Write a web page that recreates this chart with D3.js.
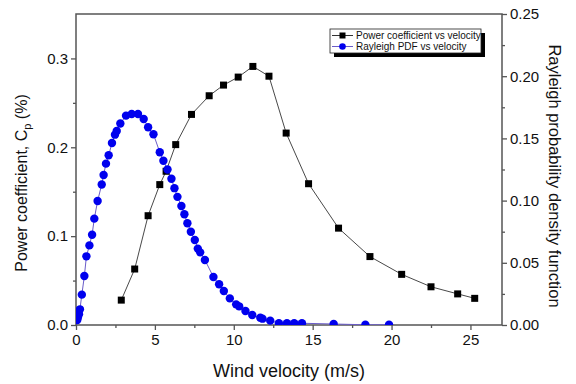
<!DOCTYPE html>
<html>
<head>
<meta charset="utf-8">
<script src="https://cdn.jsdelivr.net/npm/d3@7"></script>
<style>
body { margin: 0; background: #fff; }
svg text { font-family: Arial, "Liberation Sans", sans-serif; }
</style>
</head>
<body>
<div></div>
<script>
const width = 576, height = 384
const svg = d3.select("div").append("svg")
    .attr("xmlns", "http://www.w3.org/2000/svg")
    .attr("width", width)
    .attr("height", height)

// data
const cpVelocity = [2.87, 3.72, 4.57, 5.31, 5.71, 6.32, 7.32, 8.44, 9.35, 10.28, 11.21, 12.23, 13.32, 14.74, 16.64, 18.63, 20.64, 22.5, 24.19, 25.27]
const cpValues = [0.028, 0.063, 0.123, 0.158, 0.173, 0.203, 0.237, 0.258, 0.270, 0.279, 0.291, 0.280, 0.216, 0.159, 0.109, 0.077, 0.057, 0.043, 0.035, 0.030]
const pdfVelocity = [0.08, 0.12, 0.19, 0.25, 0.37, 0.53, 0.66, 0.85, 1.02, 1.16, 1.37, 1.63, 1.75, 1.90, 2.07, 2.28, 2.47, 2.58, 2.81, 3.17, 3.53, 3.93, 4.29, 4.57, 4.91, 5.31, 5.54, 5.80, 6.05, 6.24, 6.43, 6.68, 6.87, 7.06, 7.28, 7.53, 7.72, 7.87, 8.17, 8.71, 9.07, 9.37, 9.75, 10.15, 10.34, 10.74, 11.17, 11.68, 11.82, 12.31, 12.86, 13.37, 13.83, 14.32, 16.33, 18.34, 19.84]
const pdfValues = [0.004, 0.006, 0.0086, 0.0126, 0.0244, 0.0394, 0.0552, 0.064, 0.0726, 0.0855, 0.0997, 0.113, 0.1206, 0.1297, 0.1364, 0.1463, 0.153, 0.156, 0.162, 0.1683, 0.1696, 0.1696, 0.1656, 0.159, 0.1533, 0.1389, 0.132, 0.125, 0.1176, 0.110, 0.103, 0.0957, 0.089, 0.0818, 0.075, 0.0683, 0.0614, 0.0584, 0.0523, 0.0386, 0.0327, 0.0273, 0.0214, 0.0166, 0.015, 0.0113, 0.008, 0.0059, 0.0051, 0.0035, 0.0014, 0.0014, 0.0014, 0.0014, 0.0008, 0.0002, 0.0002]
const xTicks = [0, 5, 10, 15, 20, 25]
const leftTicks = [0, 0.1, 0.2, 0.3]
const rightTicks = [0, 0.05, 0.10, 0.15, 0.20, 0.25]
const legendLabels = ["Power coefficient vs velocity", "Rayleigh PDF vs velocity"]

// layout
const L = 76, R = 502, T = 14, B = 325
const axisColor = "#555"
const sx = d3.scaleLinear().domain([0, 27]).range([L, R])
const syL = d3.scaleLinear().domain([0, 0.35]).range([B, T])
const syR = d3.scaleLinear().domain([0, 0.25]).range([B, T])

function styleAxis(g) {
    g.select(".domain").remove()
    g.selectAll(".tick line").attr("stroke", axisColor).attr("stroke-width", 1.3)
    g.selectAll(".tick text").attr("fill", "#111").attr("font-size", 15)
        .attr("font-family", "Arial, 'Liberation Sans', sans-serif")
}

// minor ticks
svg.append("g").attr("transform", `translate(0,${B})`)
    .call(d3.axisBottom(sx).tickValues(d3.range(2.5, 27, 5)).tickSize(3).tickFormat(""))
    .call(styleAxis)
svg.append("g").attr("transform", `translate(${L},0)`)
    .call(d3.axisLeft(syL).tickValues(d3.range(0.05, 0.35, 0.1)).tickSize(3).tickFormat(""))
    .call(styleAxis)
svg.append("g").attr("transform", `translate(${R},0)`)
    .call(d3.axisRight(syR).tickValues(d3.range(0.025, 0.25, 0.05)).tickSize(3).tickFormat(""))
    .call(styleAxis)

// major ticks
svg.append("g").attr("transform", `translate(0,${B})`)
    .call(d3.axisBottom(sx).tickValues(xTicks).tickSize(5).tickPadding(4).tickFormat(d3.format("d")))
    .call(styleAxis)
svg.append("g").attr("transform", `translate(${L},0)`)
    .call(d3.axisLeft(syL).tickValues(leftTicks).tickSize(5).tickPadding(3).tickFormat(d3.format(".1f")))
    .call(styleAxis)
svg.append("g").attr("transform", `translate(${R},0)`)
    .call(d3.axisRight(syR).tickValues(rightTicks).tickSize(5).tickPadding(3).tickFormat(d3.format(".2f")))
    .call(styleAxis)

// frame
svg.append("path")
    .attr("d", `M${L},${T}H${R}V${B}H${L}Z`)
    .attr("fill", "none")
    .attr("stroke", axisColor)
    .attr("stroke-width", 1.5)

const clip = svg.append("clipPath").attr("id", "plotclip")
clip.append("rect").attr("x", L).attr("y", T - 6).attr("width", R - L).attr("height", B - T + 6)

// Rayleigh PDF series
const pdfData = pdfVelocity.map((v, i) => [v, pdfValues[i]])
const pdfLine = d3.line().x(d => sx(d[0])).y(d => syR(d[1]))
const plot = svg.append("g").attr("clip-path", "url(#plotclip)")
plot.append("path")
    .attr("d", pdfLine(pdfData))
    .attr("fill", "none")
    .attr("stroke", "#6a5cc8")
    .attr("stroke-width", 1)
// power coefficient series
const cpData = cpVelocity.map((v, i) => [v, cpValues[i]])
const cpLine = d3.line().x(d => sx(d[0])).y(d => syL(d[1]))
plot.append("path")
    .attr("d", cpLine(cpData))
    .attr("fill", "none")
    .attr("stroke", "#333")
    .attr("stroke-width", 0.9)
plot.selectAll().data(cpData).enter().append("rect")
    .attr("x", d => sx(d[0]) - 3.5)
    .attr("y", d => syL(d[1]) - 3.5)
    .attr("width", 7)
    .attr("height", 7)
    .attr("fill", "#000")
plot.selectAll().data(pdfData).enter().append("circle")
    .attr("cx", d => sx(d[0]))
    .attr("cy", d => syR(d[1]))
    .attr("r", 4.2)
    .attr("fill", "#0000ee")

// legend
const lg = svg.append("g").attr("transform", "translate(330,29)")
lg.append("rect").attr("x", 4).attr("y", 4).attr("width", 151).attr("height", 24).attr("fill", "#000")
lg.append("rect").attr("x", 0).attr("y", 0).attr("width", 151).attr("height", 24)
    .attr("fill", "#fff").attr("stroke", "#222").attr("stroke-width", 0.8)
const legendColors = [["#333", "#000"], ["#6a5cc8", "#0000ee"]]
legendLabels.forEach((lab, i) => {
    const y = 6.5 + i * 11
    lg.append("line").attr("x1", 2).attr("x2", 23).attr("y1", y).attr("y2", y)
        .attr("stroke", legendColors[i][0]).attr("stroke-width", 1)
    if (i == 0) {
        lg.append("rect").attr("x", 9.5).attr("y", y - 3).attr("width", 6).attr("height", 6).attr("fill", "#000")
    } else {
        lg.append("circle").attr("cx", 12.5).attr("cy", y).attr("r", 3.3).attr("fill", "#0000ee")
    }
    lg.append("text").attr("x", 26).attr("y", y + 3.5)
        .attr("font-size", 10).attr("fill", "#111").text(lab)
})

// axis titles
svg.append("text")
    .attr("x", 289).attr("y", 377)
    .attr("text-anchor", "middle")
    .attr("font-size", 18).attr("fill", "#111")
    .text("Wind velocity (m/s)")
const yt = svg.append("text")
    .attr("transform", "translate(27,183) rotate(-90)")
    .attr("text-anchor", "middle")
    .attr("font-size", 16).attr("fill", "#111")
yt.append("tspan").text("Power coefficient, C")
yt.append("tspan").attr("font-size", 11).attr("dy", 4).text("p")
yt.append("tspan").attr("dy", -4).text(" (%)")
svg.append("text")
    .attr("transform", "translate(549,176) rotate(90)")
    .attr("text-anchor", "middle")
    .attr("font-size", 16.5).attr("fill", "#111")
    .text("Rayleigh probability density function")
</script>
</body>
</html>
